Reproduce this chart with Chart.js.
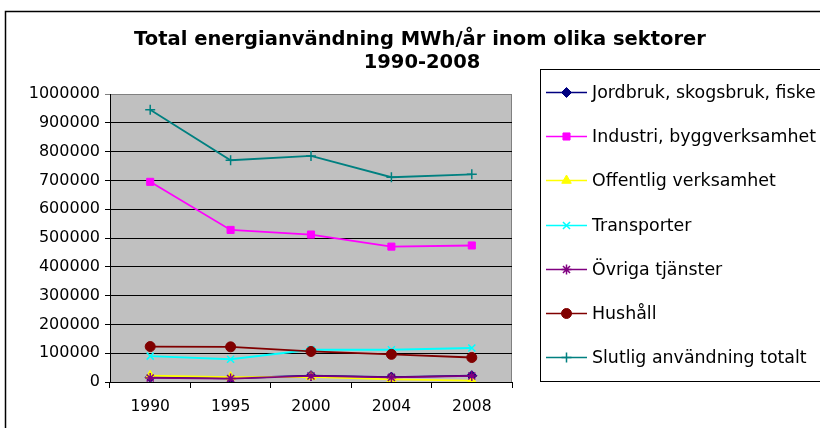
<!DOCTYPE html>
<html>
<head>
<meta charset="utf-8">
<script src="https://cdn.jsdelivr.net/npm/chart.js@4/dist/chart.umd.min.js"></script>
<style>
  html, body { margin: 0; padding: 0; background: #fff; }
  #wrap { width: 820px; height: 428px; position: relative; }
</style>
</head>
<body>
<div id="wrap"><canvas id="c" width="820" height="428"></canvas></div>
<script>
const YEARS = ['1990', '1995', '2000', '2004', '2008'];

const SERIES_NAMES = [
  'Jordbruk, skogsbruk, fiske',
  'Industri, byggverksamhet',
  'Offentlig verksamhet',
  'Transporter',
  'Övriga tjänster',
  'Hushåll',
  'Slutlig användning totalt'
];

// values (MWh/år)
const jordbruk   = [16000, 13000, 22000, 17000, 22000];
const industri   = [695000, 528000, 512000, 470000, 474000];
const offentlig  = [22000, 17000, 18000, 9000, 5000];
const transport  = [90000, 79000, 112000, 112000, 118000];
const ovriga     = [14000, 12000, 21000, 16000, 21000];
const hushall    = [123000, 122000, 106000, 96000, 85000];
const totalt     = [945000, 770000, 785000, 711000, 721000];

const Y_TICKS = [0, 100000, 200000, 300000, 400000, 500000, 600000, 700000, 800000, 900000, 1000000];

const FONT = '"DejaVu Sans", Verdana, sans-serif';

const colors = ['#000080', '#FF00FF', '#FFFF00', '#00FFFF', '#800080', '#800000', '#008080'];
const styles = ['rectRot', 'rect', 'triangle', 'crossRot', 'star', 'circle', 'cross'];
const radii = [5, 5, 5.5, 5, 5, 5, 5];
const values = [jordbruk, industri, offentlig, transport, ovriga, hushall, totalt];

const datasets = SERIES_NAMES.map((name, i) => ({
  label: name,
  data: values[i],
  borderColor: colors[i],
  backgroundColor: colors[i],
  pointBackgroundColor: colors[i],
  pointBorderColor: colors[i],
  pointStyle: styles[i],
  pointRadius: radii[i],
  pointBorderWidth: (styles[i] === 'cross' || styles[i] === 'crossRot' || styles[i] === 'star') ? 1.5 : 1,
  borderWidth: 1.8,
  tension: 0,
  order: SERIES_NAMES.length - i // later series drawn on top, as in Excel
}));

// grey plot area + its border
const plotBg = {
  id: 'plotBg',
  beforeDraw(chart) {
    const { ctx, chartArea: a } = chart;
    ctx.save();
    ctx.fillStyle = '#C0C0C0';
    ctx.fillRect(a.left, a.top, a.right - a.left, a.bottom - a.top);
    ctx.strokeStyle = '#808080';
    ctx.lineWidth = 1;
    ctx.strokeRect(a.left + 0.5, a.top + 0.5, a.right - a.left - 1, a.bottom - a.top);
    ctx.restore();
  }
};

// outer frame, title and legend
const frame = {
  id: 'frame',
  afterDraw(chart) {
    const { ctx } = chart;
    ctx.save();
    ctx.strokeStyle = '#000';
    ctx.lineWidth = 1.5;
    ctx.strokeRect(5.5, 11.5, 900, 600);

    ctx.fillStyle = '#000';
    ctx.font = 'bold 19.5px ' + FONT;
    ctx.textAlign = 'center';
    ctx.textBaseline = 'alphabetic';
    ctx.fillText('Total energianvändning MWh/år inom olika sektorer', 420, 45);
    ctx.fillText('1990-2008', 422, 68);

    // legend
    ctx.lineWidth = 1;
    ctx.strokeStyle = '#000';
    ctx.strokeRect(540.5, 69.5, 400, 312);
    ctx.font = '17.4px ' + FONT;
    ctx.textAlign = 'left';
    ctx.textBaseline = 'middle';
    chart.data.datasets.forEach((ds, i) => {
      const y = Math.round(92 + i * 44.2) + 0.5;
      ctx.strokeStyle = ds.borderColor;
      ctx.lineWidth = 1.6;
      ctx.beginPath();
      ctx.moveTo(546, y);
      ctx.lineTo(587, y);
      ctx.stroke();
      ctx.fillStyle = ds.pointBackgroundColor;
      ctx.strokeStyle = ds.pointBorderColor;
      ctx.lineWidth = ds.pointBorderWidth;
      Chart.helpers.drawPoint(ctx, {
        pointStyle: ds.pointStyle,
        radius: ds.pointRadius,
        borderWidth: ds.pointBorderWidth,
        rotation: 0
      }, 566.5, y);
      ctx.fillStyle = '#000';
      ctx.fillText(ds.label, 592, y + 1);
    });
    ctx.restore();
  }
};

new Chart(document.getElementById('c'), {
  type: 'line',
  data: { labels: YEARS, datasets },
  options: {
    responsive: false,
    animation: false,
    devicePixelRatio: 1,
    layout: { padding: { left: 0, right: 308, top: 94, bottom: 0 } },
    plugins: {
      legend: { display: false },
      title: { display: false },
      tooltip: { enabled: false }
    },
    scales: {
      x: {
        type: 'category',
        offset: true,
        afterFit(scale) { scale.height = 46; },
        grid: {
          offset: true,
          drawOnChartArea: false,
          drawTicks: true,
          tickLength: 6,
          color: '#000'
        },
        border: { color: '#000', width: 1 },
        ticks: {
          color: '#000',
          padding: 10,
          font: { family: FONT, size: 15.5 }
        }
      },
      y: {
        min: 0,
        max: 1000000,
        afterFit(scale) { scale.width = 110; },
        afterBuildTicks(scale) { scale.ticks = Y_TICKS.map(v => ({ value: v })); },
        grid: {
          color: (c) => (c.tick && c.tick.value === 1000000) ? '#808080' : '#000',
          lineWidth: 1,
          drawTicks: true,
          tickLength: 5
        },
        border: { color: '#000', width: 1 },
        ticks: {
          color: '#000',
          padding: 5,
          font: { family: FONT, size: 16 },
          callback: (v) => String(v)
        }
      }
    }
  },
  plugins: [plotBg, frame]
});
</script>
</body>
</html>
